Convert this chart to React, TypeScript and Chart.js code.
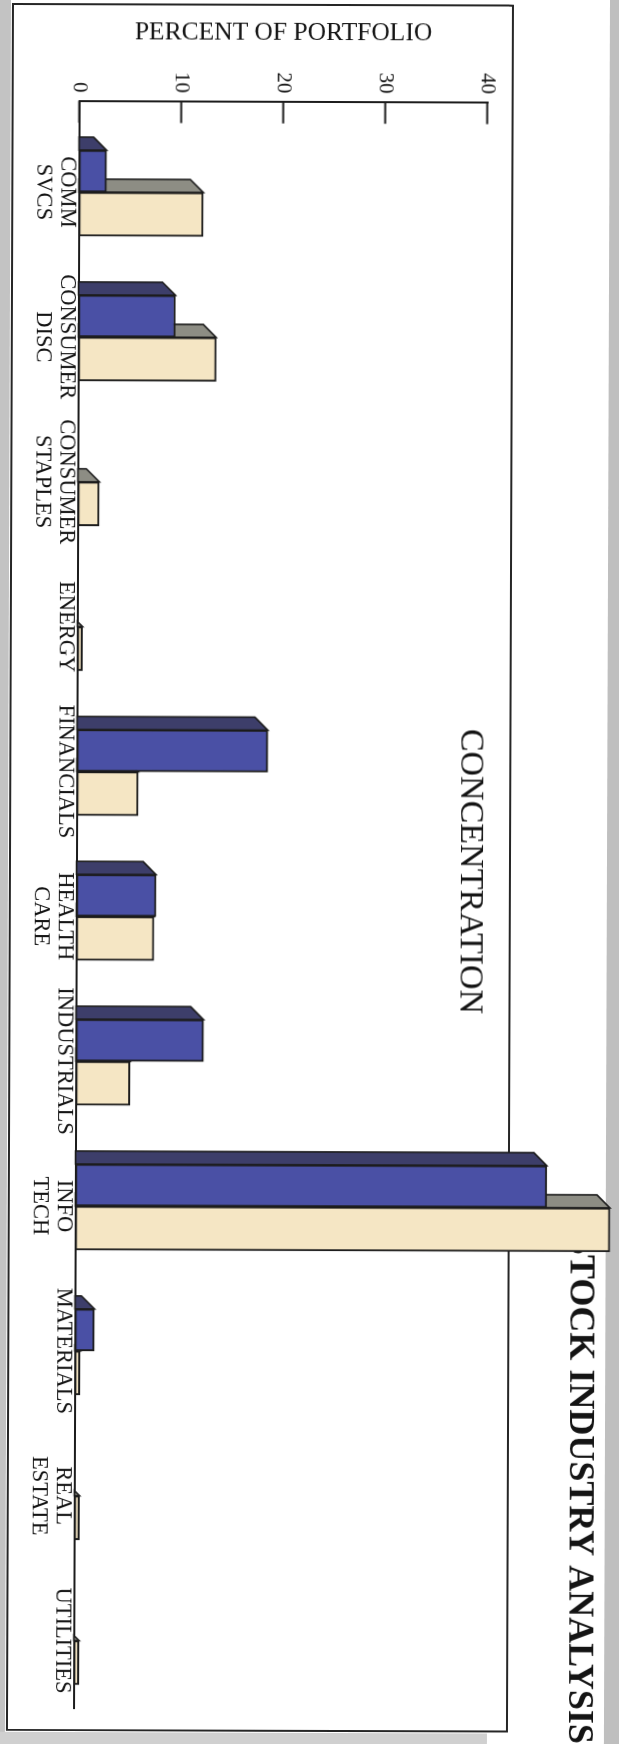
import React, { useEffect, useRef } from 'react';
import { Chart, registerables } from 'chart.js';

Chart.register(...registerables);

// ---------- data ----------
const categories = [
  'COMM\nSVCS',
  'CONSUMER\nDISC',
  'CONSUMER\nSTAPLES',
  'ENERGY',
  'FINANCIALS',
  'HEALTH\nCARE',
  'INDUSTRIALS',
  'INFO\nTECH',
  'MATERIALS',
  'REAL\nESTATE',
  'UTILITIES',
];
const seriesNames = ['Portfolio', 'Benchmark'];
const portfolioValues = [2.7, 9.5, 0, 0, 18.7, 7.8, 12.5, 46.2, 1.9, 0, 0];
const benchmarkValues = [12.2, 13.5, 2.1, 0.5, 6.0, 7.6, 5.3, 52.4, 0.5, 0.5, 0.5];
const valueTicks = [0, 10, 20, 30, 40];
const chartTitle = 'STOCK INDUSTRY ANALYSIS';
const chartSubtitle = 'CONCENTRATION';
const valueAxisTitle = 'PERCENT OF PORTFOLIO';

// ---------- style ----------
const FONT = "'Liberation Serif', 'Times New Roman', serif";
const TEXT = '#141414';
const EDGE = '#1c1c1c';
const BLUE = '#4a50a5';
const BLUE_DEPTH = '#3d3e6a';
const TAN = '#f5e6c4';
const TAN_DEPTH = '#8d8d84';
const DEPTH = 13;
const TICK_LEN = 22;

const depthPlugin = {
  id: 'depth3d',
  beforeDatasetsDraw(chart: any) {
    const ctx = chart.ctx;
    const depthColors = [BLUE_DEPTH, TAN_DEPTH];
    ctx.save();
    ctx.lineWidth = 1.6;
    ctx.strokeStyle = EDGE;
    ctx.lineJoin = 'miter';
    for (let di = chart.data.datasets.length - 1; di >= 0; di--) {
      const ds = chart.data.datasets[di];
      const meta = chart.getDatasetMeta(di);
      meta.data.forEach((bar: any, i: number) => {
        const v = ds.data[i].y;
        if (!v) return;
        const { x, y, base, width } = bar.getProps(['x', 'y', 'base', 'width'], true);
        const left = x - width / 2;
        const h = base - y;
        ctx.beginPath();
        ctx.moveTo(left, base);
        ctx.lineTo(left, y);
        if (h >= DEPTH) {
          ctx.lineTo(left - DEPTH, y + DEPTH);
          ctx.lineTo(left - DEPTH, base);
        } else {
          ctx.lineTo(left - h, base);
        }
        ctx.closePath();
        ctx.fillStyle = depthColors[di];
        ctx.fill();
        ctx.stroke();
      });
    }
    ctx.restore();
  },
};

const innerTickPlugin = {
  id: 'innerTicks',
  afterDraw(chart: any) {
    const ctx = chart.ctx;
    const ys = chart.scales.y;
    const left = chart.chartArea.left;
    ctx.save();
    ctx.strokeStyle = EDGE;
    ctx.lineWidth = 2;
    ys.ticks.forEach((t: any) => {
      const py = ys.getPixelForValue(t.value);
      ctx.beginPath();
      ctx.moveTo(left, py);
      ctx.lineTo(left + TICK_LEN, py);
      ctx.stroke();
    });
    ctx.restore();
  },
};

export default function App() {
  const canvasRef = useRef<HTMLCanvasElement>(null);

  useEffect(() => {
    document.body.style.margin = '0';
    const config: any = {
      type: 'bar',
      data: {
        datasets: [
          {
            label: seriesNames[0],
            data: portfolioValues.map((v, i) => ({ x: i, y: v })),
            backgroundColor: BLUE,
            borderColor: EDGE,
            borderWidth: 2,
            borderSkipped: false,
            barThickness: 42,
            clip: false,
          },
          {
            label: seriesNames[1],
            data: benchmarkValues.map((v, i) => ({ x: i, y: v })),
            backgroundColor: TAN,
            borderColor: EDGE,
            borderWidth: 2,
            borderSkipped: false,
            barThickness: 44,
            clip: false,
          },
        ],
      },
      options: {
        animation: false,
        responsive: true,
        maintainAspectRatio: false,
        layout: { padding: { top: 0, left: 0, right: 0, bottom: 31.45 } },
        plugins: {
          legend: { display: false },
          tooltip: { enabled: false },
          title: {
            display: true,
            text: chartTitle,
            align: 'end',
            color: TEXT,
            font: { family: FONT, size: 36, weight: 'bold', lineHeight: 1.2 },
            padding: { top: 13, bottom: 0 },
          },
          subtitle: {
            display: true,
            text: chartSubtitle,
            color: TEXT,
            font: { family: FONT, size: 34, weight: 'normal', lineHeight: 1.2 },
            padding: { top: 69.9, bottom: -35.5 },
          },
        },
        scales: {
          x: {
            type: 'linear',
            position: 'bottom',
            offset: false,
            min: -0.631,
            max: 10.466,
            afterBuildTicks: (s: any) => {
              s.ticks = categories.map((_, i) => ({ value: i }));
            },
            ticks: {
              autoSkip: false,
              maxRotation: 0,
              minRotation: 0,
              padding: 0,
              color: TEXT,
              font: { family: FONT, size: 22.5, lineHeight: 1.07 },
              callback: (v: number) => (categories[v] !== undefined ? categories[v].split('\n') : ''),
            },
            grid: { display: false, drawTicks: false },
            border: { display: true, color: EDGE, width: 2 },
          },
          y: {
            position: 'left',
            min: 0,
            max: 40,
            afterBuildTicks: (s: any) => {
              s.ticks = valueTicks.map((v) => ({ value: v }));
            },
            ticks: { padding: 8, color: TEXT, font: { family: FONT, size: 21 } },
            grid: { display: false, drawTicks: false },
            border: { display: true, color: EDGE, width: 2 },
            title: {
              display: true,
              text: valueAxisTitle,
              color: TEXT,
              font: { family: FONT, size: 25.5, lineHeight: 1.2 },
              padding: { top: 19, bottom: 16 },
            },
          },
          y2: {
            position: 'right',
            display: true,
            afterFit: (s: any) => {
              s.width = 34;
            },
            ticks: { display: false },
            grid: { display: false, drawTicks: false },
            border: { display: false },
          },
        },
      },
      plugins: [depthPlugin, innerTickPlugin],
    };
    const chart = new Chart(canvasRef.current as HTMLCanvasElement, config);
    return () => chart.destroy();
  }, []);

  return (
    <div
      style={{
        position: 'absolute',
        left: 0,
        top: 0,
        width: 619,
        height: 1744,
        overflow: 'hidden',
        background: '#ffffff',
      }}
    >
      <div
        style={{
          position: 'absolute',
          left: 0,
          top: 0,
          width: 1744,
          height: 619,
          transformOrigin: '0 0',
          transform: 'translate(619px, 0px) rotate(90.2deg)',
        }}
      >
        <div style={{ position: 'absolute', left: -30, top: 607.5, width: 1820, height: 40, background: '#c3c3c3' }} />
        <div style={{ position: 'absolute', left: -30, top: -30, width: 1820, height: 39, background: '#bfbfbf' }} />
        <div style={{ position: 'absolute', left: 1734, top: 126, width: 40, height: 520, background: '#d0d0d0' }} />
        <div
          style={{
            position: 'absolute',
            left: 5.3,
            top: 104.6,
            width: 1727.6,
            height: 502.1,
            border: '2px solid #262626',
            boxSizing: 'border-box',
          }}
        />
        <div style={{ position: 'absolute', left: 0, top: 0, width: 1744, height: 619 }}>
          <canvas ref={canvasRef} />
        </div>
      </div>
    </div>
  );
}
